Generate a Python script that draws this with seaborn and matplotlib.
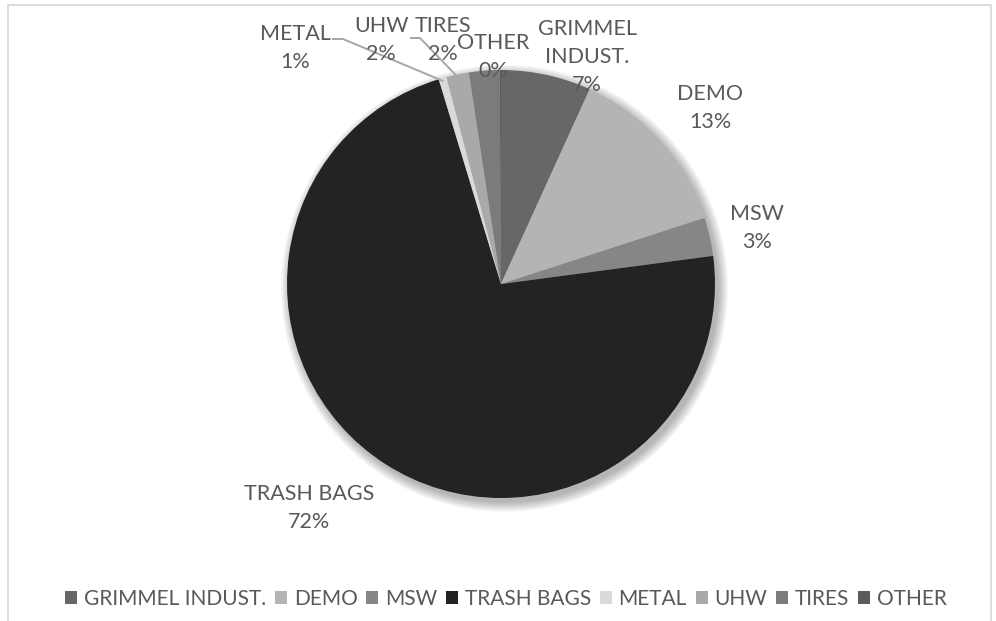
import matplotlib
matplotlib.use("Agg")
import matplotlib.pyplot as plt
import numpy as np
import seaborn as sns
from matplotlib.patches import Rectangle, Circle

# ---- data ----
categories = ["GRIMMEL INDUST.", "DEMO", "MSW", "TRASH BAGS", "METAL", "UHW", "TIRES", "OTHER"]
values = [6.8, 13.2, 2.9, 72.4, 0.6, 1.7, 2.3, 0.1]
label_names = ["GRIMMEL\nINDUST.", "DEMO", "MSW", "TRASH BAGS", "METAL", "UHW", "TIRES", "OTHER"]
hex_colors = ["#676767", "#b4b4b4", "#868686", "#232323", "#dadada", "#a9a9a9", "#7b7b7b", "#5c5c5c"]

# ---- layout (pixels in a 996x621 canvas) ----
W, H = 996, 621
CX, CY, R = 501, 284, 214
label_px = [(587, 57), (710, 108), (757, 228), (309, 508), (295, 48), (381, 40), (443, 40), (493, 57)]
leader_start_px = {4: [(332, 39), (343, 39)], 5: [(410, 38), (420, 38)]}

sns.set_theme(style="white")
plt.rcParams["font.family"] = ["Lato", "DejaVu Sans"]
TEXT = "#595959"

def px2d(p):
    return ((p[0] - CX) / R, (CY - p[1]) / R)

fig = plt.figure(figsize=(W / 100, H / 100), dpi=100)
fig.patch.set_facecolor("white")
ax = fig.add_axes([0, 0, 1, 1])

colors = sns.color_palette(hex_colors)

# soft shadow
for k in range(10):
    ax.add_patch(Circle((0.016, -0.02), 1.0 + 0.005 * k, color="black",
                        alpha=0.03, lw=0, zorder=0))

wedges, _ = ax.pie(values, colors=colors, startangle=90, counterclock=False,
                   radius=1.0, center=(0, 0), wedgeprops=dict(linewidth=0))
for w in wedges:
    w.set_zorder(2)

ax.set_xlim(-CX / R, (W - CX) / R)
ax.set_ylim((CY - H) / R, CY / R)
ax.set_aspect("auto")
ax.axis("off")

total = sum(values)
for i, (name, v) in enumerate(zip(label_names, values)):
    pct = round(v / total * 100)
    x, y = px2d(label_px[i])
    ax.text(x, y, f"{name}\n{pct:.0f}%", ha="center", va="center",
            fontsize=15.5, color=TEXT, linespacing=1.5, zorder=5)

for i, pts in leader_start_px.items():
    w = wedges[i]
    mid = np.deg2rad((w.theta1 + w.theta2) / 2)
    end = (0.985 * np.cos(mid), 0.985 * np.sin(mid))
    xs = [px2d(p)[0] for p in pts] + [end[0]]
    ys = [px2d(p)[1] for p in pts] + [end[1]]
    ax.plot(xs, ys, color="#a6a6a6", lw=1.4, zorder=4, solid_capstyle="butt")

leg = fig.legend(wedges, categories, loc="center",
                 bbox_to_anchor=(506 / W, 1 - 599 / H), ncol=8, frameon=False,
                 handlelength=0.58, handleheight=0.58, handletextpad=0.32,
                 columnspacing=0.42, fontsize=15)
for t in leg.get_texts():
    t.set_color(TEXT)

fig.patches.append(Rectangle((8 / W, -0.1), (991 - 8) / W, 1.1 - 5 / H,
                             transform=fig.transFigure, fill=False,
                             ec="#d9d9d9", lw=1.3))

fig.savefig("out.png", dpi=100)
